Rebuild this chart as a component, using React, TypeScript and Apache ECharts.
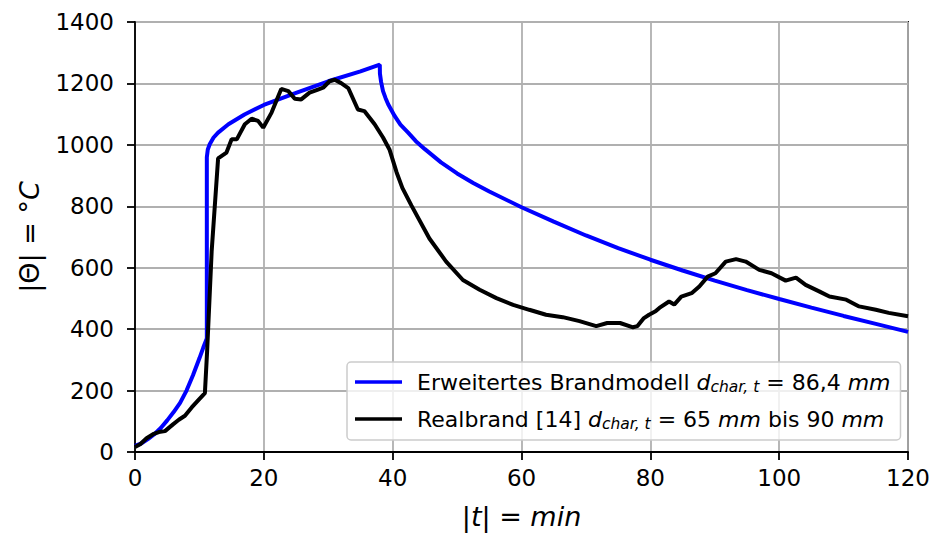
import React, { useEffect, useRef } from "react";
import * as echarts from "echarts";

const modelTime = [0, 1, 2, 3, 4, 5, 6, 7, 8, 9, 10, 10.6, 11.15, 11.15, 11.3, 11.6, 12.2, 12.9, 14.5, 17, 20, 25, 30, 35, 38, 38.02, 38.2, 38.5, 38.9, 39.3, 40.3, 41.2, 42.4, 43.6, 45, 47.5, 50, 52.5, 55, 60, 65, 70, 75, 80, 85, 90, 95, 100, 105, 110, 115, 120];
const modelTemp = [20, 28, 42, 58, 78, 103, 130, 160, 200, 250, 305, 340, 370, 960, 985, 1002, 1024, 1040, 1067, 1099, 1130, 1169, 1207, 1239, 1261, 1232, 1205, 1175, 1152, 1132, 1094, 1066, 1040, 1012, 986, 943, 907, 876, 848, 797, 750, 705, 664, 626, 591, 558, 527, 498, 470, 443, 417, 391];

const realTime = [0, 0.8, 1.8, 2.8, 3.7, 4.65, 5.9, 6.8, 7.75, 8.8, 9.8, 10.85, 11.2, 11.9, 12.9, 14.2, 15, 15.8, 17.05, 18.1, 19.1, 19.9, 21.2, 22.7, 23.8, 24.8, 25.8, 27.1, 28.4, 29.2, 30.2, 31, 32, 33.1, 34.6, 35.6, 37.2, 38.5, 39.5, 40.6, 41.5, 42.9, 45.7, 48.3, 50.9, 53.5, 56.1, 58.7, 61.2, 63.8, 66.4, 69, 71.6, 73.3, 75.3, 77.3, 78, 79, 79.8, 80.8, 81.4, 82.9, 83.7, 84.8, 86.4, 87.6, 88.9, 90.1, 91.7, 93.3, 94.8, 96.9, 98.8, 101, 102.6, 104.1, 106.2, 107.8, 110.4, 112.4, 115, 117, 120];
const realTemp = [16, 25, 45, 58, 65, 68, 90, 105, 118, 145, 168, 192, 330, 653, 956, 975, 1018, 1018, 1067, 1085, 1078, 1056, 1105, 1182, 1175, 1150, 1148, 1170, 1180, 1186, 1207, 1212, 1201, 1185, 1115, 1110, 1067, 1024, 985, 911, 860, 803, 695, 620, 560, 528, 501, 479, 463, 447, 439, 426, 410, 420, 420, 406, 410, 436, 447, 458, 469, 490, 480, 506, 517, 539, 571, 582, 620, 628, 620, 593, 582, 558, 568, 544, 523, 506, 496, 474, 463, 453, 442];

const xTicks = [0, 20, 40, 60, 80, 100, 120];
const yTicks = [0, 200, 400, 600, 800, 1000, 1200, 1400];

const seriesNames = ["Erweitertes Brandmodell", "Realbrand [14]"];
const legendTexts: Record<string, string> = {
  "Erweitertes Brandmodell": "{g| }{t|Erweitertes Brandmodell }{i|d}{s|char, t}{t| = 86,4 }{i|mm}",
  "Realbrand [14]": "{g| }{t|Realbrand [14] }{i|d}{s|char, t}{t| = 65 }{i|mm}{t| bis 90 }{i|mm}",
};

const FONT = "DejaVu Sans";

export default function App() {
  const ref = useRef<HTMLDivElement>(null);
  useEffect(() => {
    if (!ref.current) return;
    const chart = echarts.init(ref.current, undefined, { renderer: "svg" });
    const zip = (a: number[], b: number[]) => a.map((v, i) => [v, b[i]]);
    chart.setOption({
      animation: false,
      backgroundColor: "#ffffff",
      textStyle: { fontFamily: FONT },
      grid: {
        left: 135,
        right: 24,
        top: 22,
        bottom: 80,
        show: true,
        borderColor: "#000000",
        borderWidth: 1.8,
        backgroundColor: "transparent",
      },
      legend: {
        orient: "vertical",
        left: 347,
        top: 362,
        padding: [9, 10, 8, 8],
        itemGap: 13,
        itemWidth: 47,
        itemHeight: 3.5,
        icon: "rect",
        backgroundColor: "rgba(255,255,255,0.8)",
        borderColor: "#cccccc",
        borderWidth: 1.5,
        borderRadius: 4,
        data: seriesNames,
        formatter: (name: string) => legendTexts[name],
        textStyle: {
          fontFamily: FONT,
          color: "#000",
          rich: {
            g: { width: 10, fontSize: 22, fontFamily: FONT },
            t: { fontSize: 22, fontFamily: FONT, color: "#000" },
            i: { fontSize: 22, fontFamily: FONT, fontStyle: "italic", color: "#000" },
            s: { fontSize: 15.5, fontFamily: FONT, fontStyle: "italic", color: "#000", padding: [10, 0, 0, 0] },
          },
        },
      },
      xAxis: {
        type: "value",
        min: 0,
        max: 120,
        interval: 20,
        name: "{n||}{i|t}{n|| = }{i|min}",
        nameLocation: "middle",
        nameGap: 51,
        nameTextStyle: {
          rich: {
            n: { fontSize: 27, fontFamily: FONT, color: "#000" },
            i: { fontSize: 27, fontFamily: FONT, fontStyle: "italic", color: "#000" },
          },
        },
        axisLine: { show: true, lineStyle: { color: "#000", width: 1.8 } },
        axisTick: { show: true, inside: false, length: 8, lineStyle: { color: "#000", width: 1.8 } },
        axisLabel: {
          fontSize: 23,
          fontFamily: FONT,
          color: "#000",
          margin: 14,
          formatter: (v: number) => (xTicks.includes(v) ? String(v) : ""),
        },
        splitLine: { show: true, lineStyle: { color: "#b0b0b0", width: 1.8 } },
      },
      yAxis: {
        type: "value",
        min: 0,
        max: 1400,
        interval: 200,
        name: "{n||Θ| = °}{i|C}",
        nameLocation: "middle",
        nameRotate: 90,
        nameGap: 92,
        nameTextStyle: {
          rich: {
            n: { fontSize: 27, fontFamily: FONT, color: "#000" },
            i: { fontSize: 27, fontFamily: FONT, fontStyle: "italic", color: "#000" },
          },
        },
        axisLine: { show: true, lineStyle: { color: "#000", width: 1.8 } },
        axisTick: { show: true, inside: false, length: 8, lineStyle: { color: "#000", width: 1.8 } },
        axisLabel: {
          fontSize: 23,
          fontFamily: FONT,
          color: "#000",
          margin: 21,
          formatter: (v: number) => (yTicks.includes(v) ? String(v) : ""),
        },
        splitLine: { show: true, lineStyle: { color: "#b0b0b0", width: 1.8 } },
      },
      series: [
        {
          name: seriesNames[0],
          type: "line",
          data: zip(modelTime, modelTemp),
          showSymbol: false,
          symbol: "none",
          lineStyle: { color: "#0000ff", width: 4 },
          itemStyle: { color: "#0000ff" },
          z: 3,
        },
        {
          name: seriesNames[1],
          type: "line",
          data: zip(realTime, realTemp),
          showSymbol: false,
          symbol: "none",
          lineStyle: { color: "#000000", width: 4 },
          itemStyle: { color: "#000000" },
          z: 4,
        },
      ],
    });
    return () => chart.dispose();
  }, []);
  return (
    <div
      ref={ref}
      style={{ position: "fixed", left: 0, top: 0, width: 933, height: 535 }}
    />
  );
}
